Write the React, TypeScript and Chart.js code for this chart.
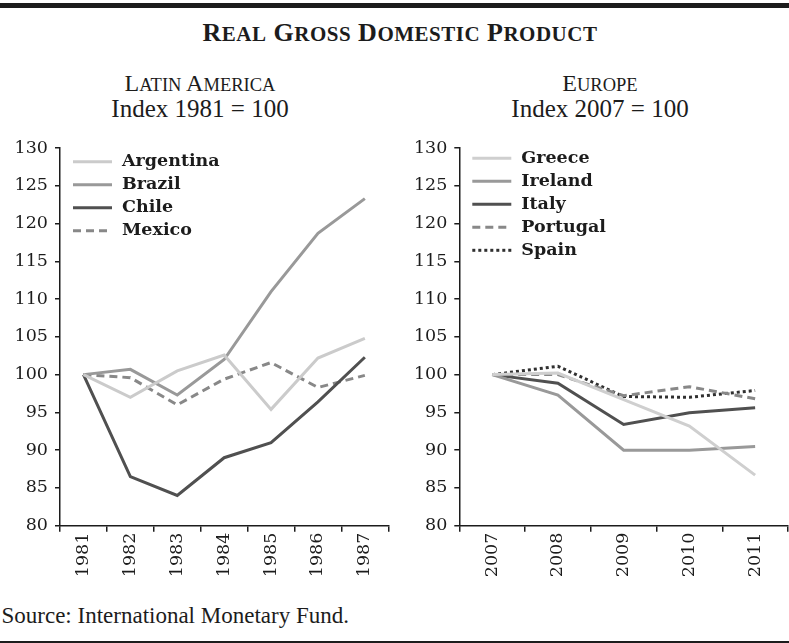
import React, { useEffect, useRef } from 'react';
import { Chart, registerables } from 'chart.js';

Chart.register(...registerables);

// ---- Data ----
const latamYears = ['1981', '1982', '1983', '1984', '1985', '1986', '1987'];
const argentina = [100, 97.0, 100.5, 102.6, 95.4, 102.2, 104.8];
const brazil = [100, 100.7, 97.3, 102.0, 111.0, 118.7, 123.3];
const chile = [100, 86.5, 84.0, 89.0, 91.0, 96.4, 102.3];
const mexico = [100, 99.6, 96.0, 99.4, 101.6, 98.3, 99.9];

const europeYears = ['2007', '2008', '2009', '2010', '2011'];
const greece = [100, 100.2, 96.7, 93.2, 86.7];
const ireland = [100, 97.3, 90.0, 90.0, 90.5];
const italy = [100, 98.85, 93.4, 94.95, 95.6];
const portugal = [100, 100.0, 97.2, 98.4, 96.8];
const spain = [100, 101.1, 97.1, 97.0, 97.9];

const yMin = 80;
const yMax = 130;
const yStep = 5;

const INK = '#1c1c1c';
const TICK_FONT = { family: 'DejaVu Serif', size: 17.5 };

const insideLegend = {
  id: 'insideLegend',
  afterDatasetsDraw(chart: any, _args: any, opts: any) {
    const { ctx, chartArea } = chart;
    ctx.save();
    chart.data.datasets.forEach((ds: any, i: number) => {
      const y = chartArea.top + opts.top + i * opts.pitch;
      ctx.beginPath();
      ctx.setLineDash(ds.borderDash || []);
      ctx.strokeStyle = ds.borderColor;
      ctx.lineWidth = ds.borderWidth;
      ctx.moveTo(chartArea.left + 13, y);
      ctx.lineTo(chartArea.left + 52, y);
      ctx.stroke();
      ctx.setLineDash([]);
      ctx.fillStyle = INK;
      ctx.font = 'bold 17.5px "DejaVu Serif"';
      ctx.textBaseline = 'alphabetic';
      ctx.textAlign = 'left';
      ctx.fillText(ds.label, chartArea.left + 62, y + 4.7);
    });
    ctx.restore();
  },
};

type Series = { label: string; data: number[]; color: string; dash?: number[] };

function makeConfig(labels: string[], series: Series[], yWidth: number, padRight: number, legendTop: number): any {
  return {
    type: 'line',
    data: {
      labels,
      datasets: series.map((s) => ({
        label: s.label,
        data: s.data,
        borderColor: s.color,
        backgroundColor: s.color,
        borderWidth: 3,
        borderDash: s.dash || [],
        pointRadius: 0,
        tension: 0,
        fill: false,
      })),
    },
    options: {
      responsive: false,
      animation: false,
      layout: { padding: { top: 18, right: padRight, bottom: 0, left: 0 } },
      plugins: {
        legend: { display: false },
        tooltip: { enabled: false },
        insideLegend: { top: legendTop, pitch: 23 },
      },
      scales: {
        x: {
          type: 'category',
          offset: true,
          grid: { offset: true, drawOnChartArea: false, drawTicks: true, tickLength: 6, color: INK, lineWidth: 1.5 },
          border: { display: true, color: INK, width: 1.5 },
          ticks: { minRotation: 90, maxRotation: 90, autoSkip: false, padding: 1, color: INK, font: TICK_FONT },
          afterFit: (s: any) => {
            s.height = 64.3;
          },
        },
        y: {
          min: yMin,
          max: yMax,
          ticks: { stepSize: yStep, padding: 7, color: INK, font: TICK_FONT },
          grid: { drawOnChartArea: false, drawTicks: true, tickLength: 5, color: INK, lineWidth: 1.5 },
          border: { display: true, color: INK, width: 1.5 },
          afterFit: (s: any) => {
            s.width = yWidth;
          },
        },
      },
    },
    plugins: [insideLegend],
  };
}

function SmallCaps({ text, big, small }: { text: string; big: number; small: number }) {
  return (
    <>
      {text.split(' ').map((w, i) => (
        <React.Fragment key={i}>
          {i > 0 ? ' ' : ''}
          <span style={{ fontSize: big }}>{w[0]}</span>
          <span style={{ fontSize: small, textTransform: 'uppercase' }}>{w.slice(1)}</span>
        </React.Fragment>
      ))}
    </>
  );
}

export default function App() {
  const leftRef = useRef<HTMLCanvasElement>(null);
  const rightRef = useRef<HTMLCanvasElement>(null);

  useEffect(() => {
    const left = new Chart(
      leftRef.current as HTMLCanvasElement,
      makeConfig(
        latamYears,
        [
          { label: 'Argentina', data: argentina, color: '#cbcbcb' },
          { label: 'Brazil', data: brazil, color: '#999999' },
          { label: 'Chile', data: chile, color: '#505050' },
          { label: 'Mexico', data: mexico, color: '#888888', dash: [8, 5] },
        ],
        60,
        11.7,
        13.7
      )
    );
    const right = new Chart(
      rightRef.current as HTMLCanvasElement,
      makeConfig(
        europeYears,
        [
          { label: 'Greece', data: greece, color: '#cfcfcf' },
          { label: 'Ireland', data: ireland, color: '#999999' },
          { label: 'Italy', data: italy, color: '#505050' },
          { label: 'Portugal', data: portugal, color: '#888888', dash: [8, 5] },
          { label: 'Spain', data: spain, color: '#303030', dash: [3, 3] },
        ],
        59.3,
        1,
        10.3
      )
    );
    return () => {
      left.destroy();
      right.destroy();
    };
  }, []);

  const abs = (o: React.CSSProperties): React.CSSProperties => ({ position: 'absolute', ...o });

  return (
    <div
      style={{
        position: 'absolute',
        left: 0,
        top: 0,
        width: 789,
        height: 643,
        overflow: 'hidden',
        background: '#fff',
        color: INK,
        fontFamily: '"Liberation Serif", serif',
      }}
    >
      <div style={abs({ left: 0, top: 3, width: 789, height: 4.5, background: INK })} />
      <div
        style={abs({
          left: 0,
          top: 19.9,
          width: 800,
          textAlign: 'center',
          fontSize: 26,
          lineHeight: 1,
          fontWeight: 'bold',
          letterSpacing: 0.5,
          whiteSpace: 'nowrap',
        })}
      >
        <SmallCaps text="Real Gross Domestic Product" big={26} small={21} />
      </div>

      <div style={abs({ left: 0, top: 70.6, width: 400, textAlign: 'center', fontSize: 24, lineHeight: 1, whiteSpace: 'nowrap' })}>
        <SmallCaps text="Latin America" big={24} small={18.5} />
      </div>
      <div style={abs({ left: 0, top: 95.8, width: 400, textAlign: 'center', fontSize: 25, lineHeight: 1, whiteSpace: 'nowrap' })}>
        Index 1981 = 100
      </div>
      <div style={abs({ left: 400, top: 70.6, width: 400, textAlign: 'center', fontSize: 24, lineHeight: 1, whiteSpace: 'nowrap' })}>
        <SmallCaps text="Europe" big={24} small={18.5} />
      </div>
      <div style={abs({ left: 400, top: 95.8, width: 400, textAlign: 'center', fontSize: 25, lineHeight: 1, whiteSpace: 'nowrap' })}>
        Index 2007 = 100
      </div>

      <canvas ref={leftRef} width={400} height={460} style={abs({ left: 0, top: 130, width: 400, height: 460 })} />
      <canvas ref={rightRef} width={389} height={460} style={abs({ left: 400, top: 130, width: 389, height: 460 })} />

      <div style={abs({ left: 1.5, top: 604, fontSize: 23, lineHeight: 1, whiteSpace: 'nowrap' })}>
        Source: International Monetary Fund.
      </div>
      <div style={abs({ left: 0, top: 640.5, width: 789, height: 3, background: INK })} />
    </div>
  );
}
